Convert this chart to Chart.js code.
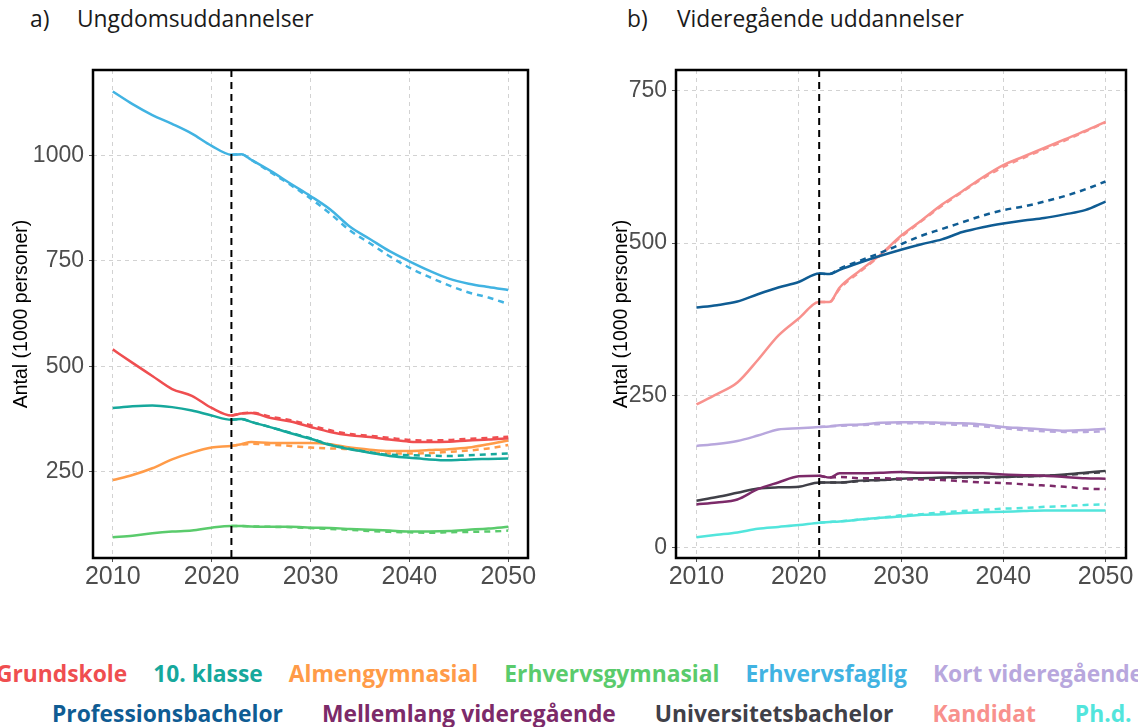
<!DOCTYPE html>
<html>
<head>
<meta charset="utf-8">
<script src="https://cdn.jsdelivr.net/npm/chart.js@4/dist/chart.umd.min.js"></script>
<style>
  html, body { margin: 0; padding: 0; background: #fff; overflow: hidden; }
  #page { position: relative; width: 1138px; height: 727px; overflow: hidden; }
  .panel { position: absolute; top: 0; height: 610px; }
  .title { position: absolute; top: 3px; font-family: "Open Sans", sans-serif; font-size: 22.8px; color: #1a1a1a; white-space: nowrap; }
  .legend-row { position: absolute; display: flex; justify-content: flex-start; white-space: nowrap;
    font-family: "Open Sans", sans-serif; font-weight: 700; font-size: 22.8px; }
</style>
</head>
<body>
<div id="page">
  <div class="title" style="left:30px">a)</div>
  <div class="title" style="left:77px">Ungdomsuddannelser</div>
  <div class="title" style="left:627px">b)</div>
  <div class="title" style="left:677px">Videregående uddannelser</div>
  <div class="panel" style="left:0;width:560px"><canvas id="chartA" width="560" height="610"></canvas></div>
  <div class="panel" style="left:600px;width:538px"><canvas id="chartB" width="538" height="610"></canvas></div>
  <div class="legend-row" id="legend1" style="left:-4px;top:658px;gap:26px"></div>
  <div class="legend-row" id="legend2" style="left:52px;top:698px;gap:39px"></div>
</div>
<script>
// years on the x axis; projections (dashed) start at 2022
const years = [2010, 2012, 2014, 2016, 2018, 2020, 2022, 2023, 2024, 2026, 2028, 2030,
               2032, 2034, 2036, 2038, 2040, 2042, 2044, 2046, 2048, 2050];
const yearsProj = years.slice(6);
const forecastStart = 2022;

const xTicks = [2010, 2020, 2030, 2040, 2050];
const yTicksA = [250, 500, 750, 1000];
const yTicksB = [0, 250, 500, 750];

// a) Ungdomsuddannelser
const grundskole      = [540, 508, 477, 446, 430, 401, 383, 388, 389, 377, 369, 356, 344, 336, 332, 326, 321, 320, 321, 324, 326, 329];
const grundskoleProj  = [383, 388, 390, 380, 372, 360, 348, 339, 335, 330, 325, 324, 325, 328, 330, 333];
const klasse10        = [401, 405, 407, 403, 395, 383, 373, 375, 368, 355, 341, 328, 313, 303, 295, 287, 283, 279, 277, 279, 280, 281];
const klasse10Proj    = [373, 375, 368, 355, 342, 329, 314, 304, 296, 290, 289, 288, 287, 289, 291, 293];
const almengym        = [230, 242, 258, 279, 295, 307, 311, 315, 320, 318, 318, 318, 315, 307, 302, 299, 299, 301, 303, 307, 315, 324];
const almengymProj    = [311, 314, 316, 314, 311, 307, 305, 303, 296, 293, 293, 294, 297, 300, 305, 313];
const erhvervsgym     = [94, 98, 104, 108, 110, 117, 121, 121, 120, 119, 119, 117, 116, 114, 112, 110, 108, 108, 109, 112, 115, 119];
const erhvervsgymProj = [121, 121, 120, 119, 118, 116, 114, 112, 109, 107, 106, 105, 106, 107, 108, 110];
const erhvervsfaglig     = [1152, 1122, 1096, 1075, 1052, 1023, 1002, 1003, 990, 963, 933, 904, 872, 831, 802, 773, 749, 727, 708, 696, 688, 681];
const erhvervsfagligProj = [1002, 1003, 990, 960, 930, 898, 862, 822, 792, 761, 734, 712, 692, 675, 663, 648];

// b) Videregående uddannelser
const kortVid        = [167, 170, 175, 184, 194, 196, 198, 199, 201, 202, 205, 206, 206, 205, 204, 202, 198, 196, 194, 192, 193, 195];
const kortVidProj    = [198, 199, 200, 201, 203, 204, 204, 203, 201, 199, 196, 193, 191, 190, 190, 191];
const profBach       = [394, 398, 404, 416, 427, 436, 450, 449, 456, 468, 479, 489, 498, 506, 518, 526, 532, 537, 541, 547, 554, 568];
const profBachProj   = [450, 449, 458, 471, 484, 498, 512, 523, 534, 545, 554, 560, 568, 577, 588, 601];
const mellemlang     = [71, 74, 79, 96, 107, 117, 118, 115, 122, 122, 123, 124, 123, 123, 122, 122, 120, 119, 118, 116, 114, 113];
const mellemlangProj = [118, 115, 116, 114, 114, 113, 112, 111, 109, 107, 106, 104, 102, 100, 97, 96];
const uniBach        = [77, 83, 90, 97, 99, 100, 107, 107, 107, 110, 111, 113, 114, 115, 116, 116, 116, 117, 118, 120, 123, 126];
const uniBachProj    = [107, 107, 107, 109, 111, 112, 113, 114, 115, 115, 116, 117, 118, 119, 122, 124];
const kandidat       = [235, 252, 271, 308, 348, 376, 403, 403, 427, 455, 481, 512, 537, 563, 585, 608, 628, 642, 656, 670, 684, 699];
const kandidatProj   = [403, 403, 425, 453, 480, 510, 536, 561, 584, 606, 625, 640, 654, 668, 683, 698];
const phd            = [17, 21, 25, 31, 34, 37, 41, 42, 43, 46, 49, 51, 54, 55, 57, 58, 59, 60, 61, 61, 61, 61];
const phdProj        = [41, 42, 43, 46, 49, 53, 55, 58, 60, 62, 64, 65, 67, 68, 70, 71];

const seriesA = [
  { name: "Grundskole", color: "#EF4E50", data: grundskole, proj: grundskoleProj },
  { name: "10. klasse", color: "#16A89C", data: klasse10, proj: klasse10Proj },
  { name: "Almengymnasial", color: "#FF9B48", data: almengym, proj: almengymProj },
  { name: "Erhvervsgymnasial", color: "#5ACB6C", data: erhvervsgym, proj: erhvervsgymProj },
  { name: "Erhvervsfaglig", color: "#41B3E2", data: erhvervsfaglig, proj: erhvervsfagligProj },
];
const seriesB = [
  { name: "Kort videregående", color: "#B8A7DD", data: kortVid, proj: kortVidProj },
  { name: "Professionsbachelor", color: "#0F5C93", data: profBach, proj: profBachProj },
  { name: "Mellemlang videregående", color: "#7C2A69", data: mellemlang, proj: mellemlangProj },
  { name: "Universitetsbachelor", color: "#404048", data: uniBach, proj: uniBachProj },
  { name: "Kandidat", color: "#F8918D", data: kandidat, proj: kandidatProj },
  { name: "Ph.d.", color: "#52E5DC", data: phd, proj: phdProj },
];

const toPoints = (xs, ys) => ys.map((y, i) => ({ x: xs[i], y: y }));

const getDatasets = (series) => {
  const out = [];
  series.forEach((s) => {
    out.push({ label: s.name + " (proj)", data: toPoints(yearsProj, s.proj), borderColor: s.color,
      borderWidth: 2.5, borderDash: [6, 5], pointRadius: 0, fill: false, cubicInterpolationMode: "monotone" });
    out.push({ label: s.name, data: toPoints(years, s.data), borderColor: s.color,
      borderWidth: 2.5, pointRadius: 0, fill: false, cubicInterpolationMode: "monotone" });
  });
  return out;
};

// black box around the plot and dashed forecast line
const framePlugin = {
  id: "frame",
  afterDatasetsDraw(chart) {
    const { ctx, chartArea: a, scales } = chart;
    const x = scales.x.getPixelForValue(forecastStart);
    ctx.save();
    ctx.strokeStyle = "#000";
    ctx.lineWidth = 2;
    ctx.setLineDash([7, 5]);
    ctx.beginPath();
    ctx.moveTo(x, a.top);
    ctx.lineTo(x, a.bottom);
    ctx.stroke();
    ctx.setLineDash([]);
    ctx.lineWidth = 2.5;
    ctx.strokeRect(a.left, a.top, a.right - a.left, a.bottom - a.top);
    ctx.restore();
  },
};

const gridOpts = { color: "#d2d2d2", lineWidth: 1, tickLength: 4, tickColor: "#555", tickBorderDash: [] };

const getConfig = (series, yMin, yMax, yTicks, yWidth, padRight) => ({
  type: "line",
  data: { datasets: getDatasets(series) },
  options: {
    responsive: false,
    animation: false,
    layout: { padding: { top: 70, right: padRight, bottom: 0, left: 0 } },
    plugins: { legend: { display: false }, tooltip: { enabled: false } },
    scales: {
      x: {
        type: "linear", min: 2008, max: 2052,
        afterBuildTicks: (s) => { s.ticks = xTicks.map((v) => ({ value: v })); },
        afterFit: (s) => { s.height = 52; },
        grid: gridOpts,
        border: { display: false, dash: [4, 4] },
        ticks: { color: "#4d4d4d", font: { family: "Liberation Sans", size: 25 }, padding: 0, maxRotation: 0,
                 callback: (v) => String(v) },
      },
      y: {
        min: yMin, max: yMax,
        afterBuildTicks: (s) => { s.ticks = yTicks.map((v) => ({ value: v })); },
        afterFit: (s) => { s.width = yWidth; },
        grid: gridOpts,
        border: { display: false, dash: [4, 4] },
        ticks: { color: "#4d4d4d", font: { family: "Liberation Sans", size: 23 }, padding: 5,
                 callback: (v) => String(v) },
        title: { display: true, text: "Antal (1000 personer)", color: "#000",
                 font: { family: "Liberation Sans", size: 19.5 }, padding: { top: 10, bottom: 0 } },
      },
    },
  },
  plugins: [framePlugin],
});

new Chart(document.getElementById("chartA"), getConfig(seriesA, 45, 1203, yTicksA, 93, 32));
new Chart(document.getElementById("chartB"), getConfig(seriesB, -17, 784, yTicksB, 76, 12));

// legend in two rows of coloured text
const legendRows = [
  ["Grundskole", "10. klasse", "Almengymnasial", "Erhvervsgymnasial", "Erhvervsfaglig", "Kort videregående"],
  ["Professionsbachelor", "Mellemlang videregående", "Universitetsbachelor", "Kandidat", "Ph.d."],
];
const allSeries = seriesA.concat(seriesB);
legendRows.forEach((row, r) => {
  const el = document.getElementById("legend" + (r + 1));
  row.forEach((name) => {
    const s = allSeries.find((d) => d.name === name);
    const span = document.createElement("span");
    span.textContent = name;
    span.style.color = s.color;
    el.appendChild(span);
  });
});
</script>
</body>
</html>
